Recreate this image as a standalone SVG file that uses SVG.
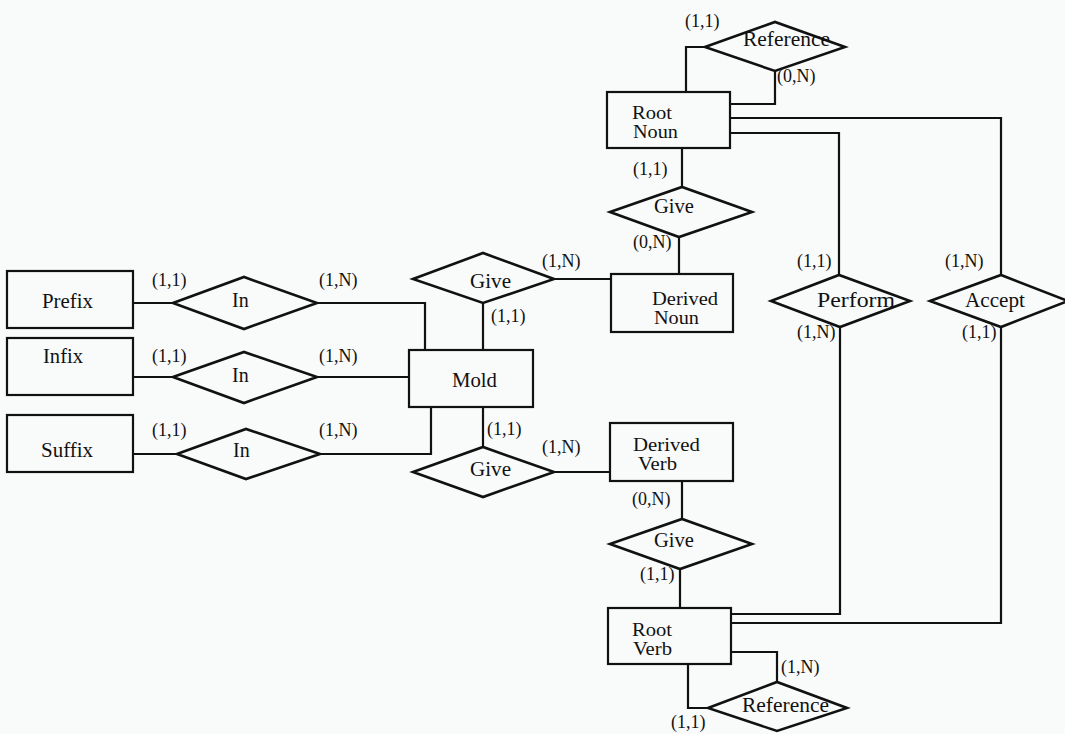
<svg xmlns="http://www.w3.org/2000/svg" width="1065" height="734" viewBox="0 0 1065 734">
  <style>
    .ent { fill: none; stroke: #111; stroke-width: 2.2; }
    .rel { fill: none; stroke: #111; stroke-width: 2.6; stroke-linejoin: miter; }
    .con { fill: none; stroke: #111; stroke-width: 2.2; }
    .lbl { font-family: "Liberation Serif", "Times New Roman", serif; font-size: 20px; fill: #111; }
    .lbl2 { font-family: "Liberation Serif", "Times New Roman", serif; font-size: 18.5px; fill: #111; }
    .card { font-family: "Liberation Serif", "Times New Roman", serif; font-size: 18px; fill: #111; }
  </style>
  <rect x="0" y="0" width="1065" height="734" fill="#f9fafa"/>

  <!-- connectors -->
  <g id="connectors">
    <!-- affix relations to Mold -->
    <polyline class="con" points="133,303 173,303"/>
    <polyline class="con" points="317,303 425,303 425,350"/>
    <polyline class="con" points="133,377 173,377"/>
    <polyline class="con" points="317,377 409,377"/>
    <polyline class="con" points="133,454 177,454"/>
    <polyline class="con" points="320,454 431,454 431,407"/>
    <!-- Mold derivations -->
    <polyline class="con" points="483,303 483,350"/>
    <polyline class="con" points="554,279 611,279"/>
    <polyline class="con" points="483,407 483,447"/>
    <polyline class="con" points="554,472 610,472"/>
    <!-- Root Noun self reference -->
    <polyline class="con" points="686,92 686,47 705,47"/>
    <polyline class="con" points="775,71 775,104 730,104"/>
    <!-- Root Noun to Derived Noun -->
    <polyline class="con" points="682,148 682,187"/>
    <polyline class="con" points="679,237 679,274"/>
    <!-- Perform / Accept -->
    <polyline class="con" points="730,133 839,133 839,275"/>
    <polyline class="con" points="730,118 1001,118 1001,275"/>
    <polyline class="con" points="840,327 840,614 731,614"/>
    <polyline class="con" points="1001,327 1001,623 731,623"/>
    <!-- Derived Verb to Root Verb -->
    <polyline class="con" points="682,481 682,519"/>
    <polyline class="con" points="680,569 680,608"/>
    <!-- Root Verb self reference -->
    <polyline class="con" points="731,652 777,652 777,682"/>
    <polyline class="con" points="688,664 688,708 708,708"/>
  </g>

  <!-- entities -->
  <g id="prefix">
    <rect class="ent" x="7" y="271" width="126" height="57"/>
    <text class="lbl" x="42" y="308" textLength="51" lengthAdjust="spacingAndGlyphs">Prefix</text>
  </g>
  <g id="infix">
    <rect class="ent" x="7" y="338" width="126" height="57"/>
    <text class="lbl" x="43" y="363" textLength="40" lengthAdjust="spacingAndGlyphs">Infix</text>
  </g>
  <g id="suffix">
    <rect class="ent" x="7" y="415" width="126" height="57"/>
    <text class="lbl" x="41" y="457" textLength="52" lengthAdjust="spacingAndGlyphs">Suffix</text>
  </g>
  <g id="mold">
    <rect class="ent" x="409" y="350" width="124" height="57"/>
    <text class="lbl" x="452" y="387" textLength="45" lengthAdjust="spacingAndGlyphs">Mold</text>
  </g>
  <g id="root-noun">
    <rect class="ent" x="607" y="92" width="123" height="56"/>
    <text class="lbl2" x="632" y="119" textLength="40" lengthAdjust="spacingAndGlyphs">Root</text>
    <text class="lbl2" x="633" y="138" textLength="45" lengthAdjust="spacingAndGlyphs">Noun</text>
  </g>
  <g id="derived-noun">
    <rect class="ent" x="611" y="274" width="122" height="58"/>
    <text class="lbl2" x="652" y="305" textLength="66" lengthAdjust="spacingAndGlyphs">Derived</text>
    <text class="lbl2" x="654" y="324" textLength="45" lengthAdjust="spacingAndGlyphs">Noun</text>
  </g>
  <g id="derived-verb">
    <rect class="ent" x="610" y="423" width="123" height="58"/>
    <text class="lbl2" x="633" y="451" textLength="67" lengthAdjust="spacingAndGlyphs">Derived</text>
    <text class="lbl2" x="638" y="470" textLength="39" lengthAdjust="spacingAndGlyphs">Verb</text>
  </g>
  <g id="root-verb">
    <rect class="ent" x="608" y="608" width="123" height="56"/>
    <text class="lbl2" x="632" y="636" textLength="40" lengthAdjust="spacingAndGlyphs">Root</text>
    <text class="lbl2" x="633" y="655" textLength="39" lengthAdjust="spacingAndGlyphs">Verb</text>
  </g>

  <!-- relationships -->
  <g id="in-prefix">
    <polygon class="rel" points="173,303 244,277 317,303 244,329"/>
    <text class="lbl" x="232" y="307">In</text>
  </g>
  <g id="in-infix">
    <polygon class="rel" points="173,377 244,352 317,377 244,403"/>
    <text class="lbl" x="232" y="382">In</text>
  </g>
  <g id="in-suffix">
    <polygon class="rel" points="177,454 246,429 320,454 246,479"/>
    <text class="lbl" x="233" y="457">In</text>
  </g>
  <g id="give-noun">
    <polygon class="rel" points="413,279 483,253 554,279 483,303"/>
    <text class="lbl" x="470" y="288" textLength="41" lengthAdjust="spacingAndGlyphs">Give</text>
  </g>
  <g id="give-verb">
    <polygon class="rel" points="413,472 483,447 554,472 483,497"/>
    <text class="lbl" x="470" y="476" textLength="41" lengthAdjust="spacingAndGlyphs">Give</text>
  </g>
  <g id="reference-noun">
    <polygon class="rel" points="705,47 775,22 845,47 775,71"/>
    <text class="lbl" x="743" y="46" textLength="87" lengthAdjust="spacingAndGlyphs">Reference</text>
  </g>
  <g id="give-root-noun">
    <polygon class="rel" points="610,212 682,187 752,212 679,237"/>
    <text class="lbl" x="654" y="213" textLength="40" lengthAdjust="spacingAndGlyphs">Give</text>
  </g>
  <g id="perform">
    <polygon class="rel" points="771,301 839,275 910,301 840,327"/>
    <text class="lbl" x="817" y="307" textLength="78" lengthAdjust="spacingAndGlyphs">Perform</text>
  </g>
  <g id="accept">
    <polygon class="rel" points="930,301 1001,275 1068,301 1001,327"/>
    <text class="lbl" x="965" y="307" textLength="60" lengthAdjust="spacingAndGlyphs">Accept</text>
  </g>
  <g id="give-root-verb">
    <polygon class="rel" points="610,544 682,519 752,544 680,569"/>
    <text class="lbl" x="654" y="547" textLength="40" lengthAdjust="spacingAndGlyphs">Give</text>
  </g>
  <g id="reference-verb">
    <polygon class="rel" points="708,708 777,682 847,708 777,731"/>
    <text class="lbl" x="742" y="712" textLength="87" lengthAdjust="spacingAndGlyphs">Reference</text>
  </g>

  <!-- cardinalities -->
  <g id="cardinalities">
    <text class="card" x="152" y="286">(1,1)</text>
    <text class="card" x="319" y="286">(1,N)</text>
    <text class="card" x="152" y="362">(1,1)</text>
    <text class="card" x="319" y="362">(1,N)</text>
    <text class="card" x="152" y="436">(1,1)</text>
    <text class="card" x="319" y="436">(1,N)</text>
    <text class="card" x="542" y="267">(1,N)</text>
    <text class="card" x="491" y="322">(1,1)</text>
    <text class="card" x="487" y="435">(1,1)</text>
    <text class="card" x="542" y="453">(1,N)</text>
    <text class="card" x="685" y="27">(1,1)</text>
    <text class="card" x="777" y="82">(0,N)</text>
    <text class="card" x="633" y="175">(1,1)</text>
    <text class="card" x="633" y="248">(0,N)</text>
    <text class="card" x="797" y="267">(1,1)</text>
    <text class="card" x="797" y="338">(1,N)</text>
    <text class="card" x="945" y="267">(1,N)</text>
    <text class="card" x="962" y="338">(1,1)</text>
    <text class="card" x="632" y="505">(0,N)</text>
    <text class="card" x="640" y="580">(1,1)</text>
    <text class="card" x="781" y="673">(1,N)</text>
    <text class="card" x="671" y="728">(1,1)</text>
  </g>
</svg>
